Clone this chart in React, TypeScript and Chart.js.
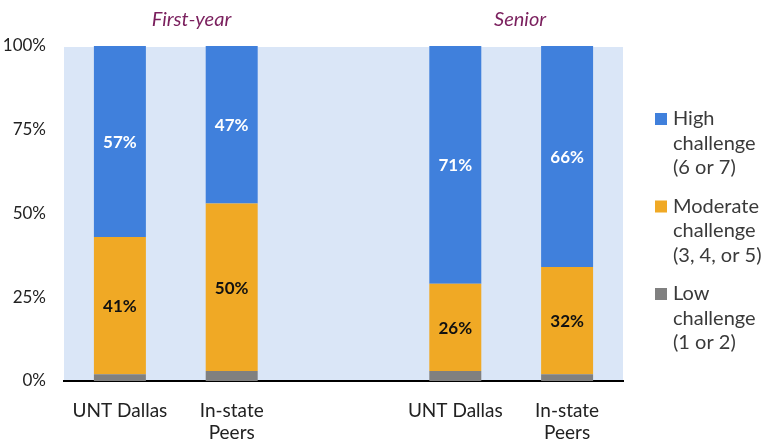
import React, { useEffect, useRef } from 'react';
import { Chart, registerables } from 'chart.js';

Chart.register(...registerables);

const categories: (string | string[])[] = ['UNT Dallas', ['In-state', 'Peers'], '', 'UNT Dallas', ['In-state', 'Peers']];
const lowValues = [2, 3, null, 3, 2];
const moderateValues = [41, 50, null, 26, 32];
const highValues = [57, 47, null, 71, 66];
const groupTitles = ['First-year', 'Senior'];
const yTickValues = [0, 25, 50, 75, 100];
const highLegend = ['High', 'challenge', '(6 or 7)'];
const moderateLegend = ['Moderate', 'challenge', '(3, 4, or 5)'];
const lowLegend = ['Low', 'challenge', '(1 or 2)'];

const FONT = 'Lato, "Noto Sans", sans-serif';
const BLUE = '#4080dc';
const ORANGE = '#f0a925';
const GRAY = '#808080';
const BG = '#dae6f7';

const bgPlugin = {
  id: 'plotBg',
  beforeDraw(chart: any) {
    const { ctx, chartArea } = chart;
    ctx.save();
    ctx.fillStyle = BG;
    ctx.fillRect(chartArea.left, chartArea.top + 1, chartArea.right - chartArea.left, chartArea.bottom - chartArea.top - 1);
    ctx.restore();
  },
};

const labelPlugin = {
  id: 'segLabels',
  afterDatasetsDraw(chart: any) {
    const { ctx } = chart;
    ctx.save();
    ctx.font = `bold 17px ${FONT}`;
    ctx.textAlign = 'center';
    ctx.textBaseline = 'middle';
    chart.data.datasets.forEach((ds: any, i: number) => {
      if (!ds.showLabels) return;
      const meta = chart.getDatasetMeta(i);
      meta.data.forEach((el: any, j: number) => {
        const v = ds.data[j];
        if (v == null) return;
        ctx.fillStyle = ds.labelColor;
        ctx.fillText(v + '%', el.x, (el.y + el.base) / 2 + 1);
      });
    });
    ctx.restore();
  },
};

const titlePlugin = {
  id: 'groupTitles',
  afterDraw(chart: any) {
    const { ctx } = chart;
    const x = chart.scales.x;
    ctx.save();
    ctx.font = `italic 20px ${FONT}`;
    ctx.fillStyle = '#7a1f5d';
    ctx.textAlign = 'center';
    ctx.textBaseline = 'middle';
    ctx.fillText(groupTitles[0], x.getPixelForValue(0.64), 20);
    ctx.fillText(groupTitles[1], x.getPixelForValue(3.58), 20);
    ctx.restore();
  },
};

const legendPlugin = {
  id: 'sideLegend',
  afterDraw(chart: any) {
    const { ctx, chartArea } = chart;
    const items = [...chart.data.datasets].reverse();
    const left = chartArea.right + 32;
    let y = 119;
    ctx.save();
    ctx.font = `20px ${FONT}`;
    ctx.textAlign = 'left';
    ctx.textBaseline = 'middle';
    items.forEach((ds: any) => {
      ctx.fillStyle = ds.backgroundColor;
      ctx.fillRect(left, y - 6, 12, 12);
      ctx.fillStyle = '#3a3a3a';
      ds.legendLines.forEach((line: string, k: number) => {
        ctx.fillText(line, left + 18, y + k * 24.5);
      });
      y += 87.5;
    });
    ctx.restore();
  },
};

export default function App() {
  const ref = useRef<HTMLCanvasElement | null>(null);
  useEffect(() => {
    document.body.style.margin = '0';
    if (!ref.current) return;
    const chart = new Chart(ref.current, {
      type: 'bar',
      data: {
        labels: categories as any,
        datasets: [
          { label: 'Low challenge (1 or 2)', data: lowValues, backgroundColor: GRAY, legendLines: lowLegend, showLabels: false } as any,
          { label: 'Moderate challenge (3, 4, or 5)', data: moderateValues, backgroundColor: ORANGE, legendLines: moderateLegend, showLabels: true, labelColor: '#111111' } as any,
          { label: 'High challenge (6 or 7)', data: highValues, backgroundColor: BLUE, legendLines: highLegend, showLabels: true, labelColor: '#ffffff' } as any,
        ],
      },
      options: {
        animation: false,
        responsive: true,
        maintainAspectRatio: false,
        datasets: { bar: { barPercentage: 0.465, categoryPercentage: 1 } },
        layout: { padding: { top: 46, right: 147, left: 0, bottom: 0 } },
        plugins: { legend: { display: false }, tooltip: { enabled: false } },
        scales: {
          x: {
            stacked: true,
            grid: { display: false, drawTicks: false },
            border: { display: true, color: '#000000', width: 2 },
            ticks: { font: { family: FONT, size: 19 }, color: '#222222', padding: 18, maxRotation: 0, autoSkip: false },
            afterFit: (s: any) => { s.height = 61; },
          },
          y: {
            stacked: true,
            min: 0,
            max: 100,
            grid: { display: false, drawTicks: false },
            border: { display: false },
            afterBuildTicks: (s: any) => { s.ticks = yTickValues.map((v) => ({ value: v })); },
            ticks: { font: { family: FONT, size: 17 }, color: '#222222', padding: 18, callback: (v: any) => v + '%' },
            afterFit: (s: any) => { s.width = 64; },
          },
        },
      },
      plugins: [bgPlugin, labelPlugin, titlePlugin, legendPlugin],
    });
    return () => chart.destroy();
  }, []);
  return (
    <div style={{ width: 770, height: 442, position: 'relative' }}>
      <canvas ref={ref} />
    </div>
  );
}
